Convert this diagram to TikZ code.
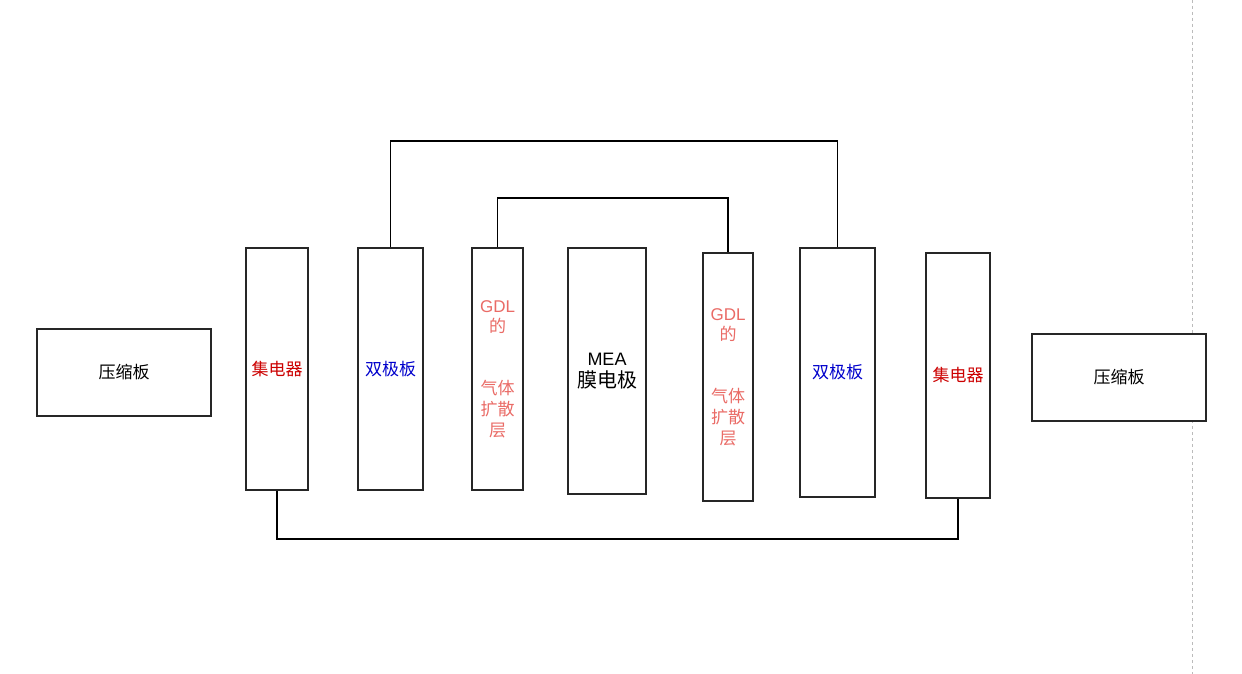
\documentclass[tikz,border=0pt]{standalone}
\usepackage{fontspec}
\setmainfont{Liberation Sans}
\newfontfamily\cjk{Noto Sans CJK SC}
\definecolor{jred}{HTML}{CC0000}
\definecolor{sblue}{HTML}{0000CC}
\definecolor{gdlc}{HTML}{EA6B66}
\definecolor{dashg}{HTML}{BBBBBB}
\begin{document}
\begin{tikzpicture}[x=1pt,y=-1pt,
  box/.style={draw=black!85, line width=1.3pt, fill=white, inner sep=0pt, align=center,
    font=\fontsize{17}{20.7}\selectfont},
  wire/.style={draw=black, line width=1.3pt}]
\useasboundingbox (0,0) rectangle (1242,674);
\fill[white] (0,0) rectangle (1242,674);
\draw[dashg, line width=1pt, dash pattern=on 3pt off 3pt] (1192,0) -- (1192,674);

\node[box, minimum width=174pt, minimum height=87pt] (pl) at (124,372.5) {\cjk 压缩板};
\node[box, minimum width=62pt, minimum height=242pt, text=jred] (jl) at (277,369) {\cjk 集电器};
\node[box, minimum width=65pt, minimum height=242pt, text=sblue] (sl) at (390.5,369) {\cjk 双极板};
\node[box, minimum width=51pt, minimum height=242pt, text=gdlc] (gl) at (497.5,369) {GDL\\{\cjk 的}\\[41.4pt]{\cjk 气体}\\{\cjk 扩散}\\{\cjk 层}};
\node[box, minimum width=78pt, minimum height=246pt] (mea) at (607,371) {\fontsize{18}{20}\selectfont MEA\\[1pt]{\cjk\fontsize{20}{22}\selectfont 膜电极}};
\node[box, minimum width=50pt, minimum height=248pt, text=gdlc] (gr) at (728,377) {GDL\\{\cjk 的}\\[41.4pt]{\cjk 气体}\\{\cjk 扩散}\\{\cjk 层}};
\node[box, minimum width=75pt, minimum height=249pt, text=sblue] (sr) at (837.5,372.5) {\cjk 双极板};
\node[box, minimum width=64pt, minimum height=245pt, text=jred] (jr) at (958,375.5) {\cjk 集电器};
\node[box, minimum width=174pt, minimum height=87pt] (pr) at (1119,377.5) {\cjk 压缩板};

\coordinate (topy) at (0,141);
\coordinate (midy) at (0,198);
\coordinate (boty) at (0,539);
\draw[wire] (sl.north) -- (sl.north |- topy) -| (sr.north);
\draw[wire] (gl.north) -- (gl.north |- midy) -| (gr.north);
\draw[wire] (jl.south) -- (jl.south |- boty) -| (jr.south);
\end{tikzpicture}
\end{document}
